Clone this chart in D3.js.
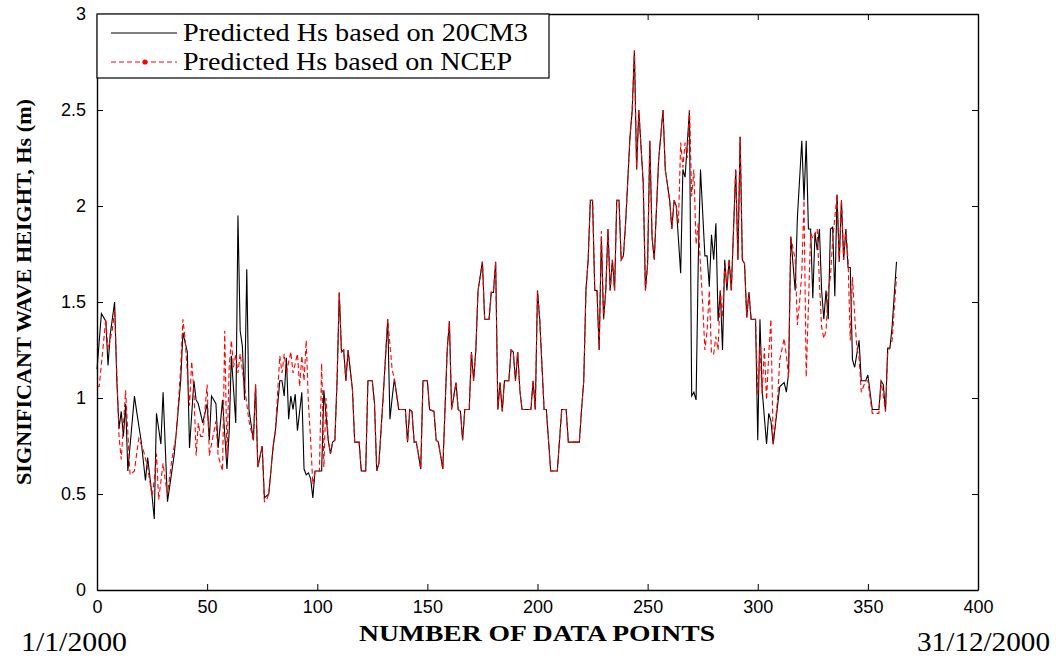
<!DOCTYPE html>
<html>
<head>
<meta charset="utf-8">
<script src="https://cdn.jsdelivr.net/npm/d3@7"></script>
<style>
  html, body { margin: 0; padding: 0; background: #fff; }
  svg { display: block; }
</style>
</head>
<body>
<svg id="chart" width="1056" height="658"></svg>
<script>
// ---- Data ----
const seriesNames = ["Predicted Hs based on 20CM3", "Predicted Hs based on NCEP"];

const days20CM3 = [0,2,4,5,6,8,9,10,11,12,13,14,17,18,20,22,23,25,26,27,29,30,32,35,36,38,39,41,42,44,45,46,48,50,51,52,54,55,57,59,60,61,63,64,65,66,67,68,69,71,72,73,75,76,78,80,81,83,84,85,86,87,88,89,90,91,93,94,95,96,97,98,99,100,102,103,105,106,107,108,109,110,111,112,113,114,116,117,119,120,122,123,125,126,127,128,130,132,133,134,135,137,140,141,142,143,144,145,147,148,150,151,153,154,155,157,158,159,160,161,163,164,165,166,167,169,170,171,172,173,175,176,178,179,180,181,182,183,184,185,187,188,189,190,191,192,193,197,198,199,200,201,203,204,206,209,211,213,214,219,220,221,222,223,224,225,226,227,228,229,230,231,232,233,234,235,236,237,238,239,240,242,243,244,245,246,248,249,250,251,252,253,255,257,258,260,261,262,263,265,266,267,269,270,271,272,273,274,276,277,278,279,280,281,282,283,284,285,286,287,288,290,291,292,293,294,295,296,297,299,300,301,302,304,305,306,307,310,312,313,314,315,317,318,320,321,322,323,324,325,326,327,328,329,330,331,332,333,334,335,336,337,338,339,340,341,342,343,344,346,347,349,350,351,352,355,356,357,358,359,360,361,363];
const hs20CM3 = [1.15,1.44,1.40,1.17,1.33,1.50,1.09,0.84,0.93,0.80,0.97,0.62,1.01,0.93,0.78,0.57,0.69,0.49,0.37,0.92,0.76,1.03,0.46,0.70,0.82,1.09,1.34,1.24,0.74,1.09,0.99,0.97,0.87,0.97,0.78,1.01,0.97,0.74,0.99,0.63,0.82,1.22,0.87,1.95,1.35,1.27,0.99,1.67,0.94,0.78,1.07,0.64,0.75,0.48,0.50,0.75,0.83,1.09,1.09,1.01,1.21,0.89,1.01,0.94,1.02,0.83,1.03,0.63,0.60,0.61,0.58,0.48,0.62,0.62,0.62,1.04,0.78,0.71,0.77,0.78,1.09,1.55,1.24,1.25,1.09,1.25,1.04,0.77,0.77,0.62,0.62,1.09,1.09,0.97,0.62,0.66,1.02,1.41,0.89,1.00,1.10,0.94,0.94,0.77,0.94,0.93,0.77,0.77,0.63,1.09,1.09,0.94,0.93,0.78,0.77,0.63,0.94,1.25,1.40,0.94,1.08,0.94,0.93,0.78,0.94,0.94,1.24,1.09,1.25,1.56,1.71,1.41,1.41,1.55,1.55,1.71,0.94,1.08,0.93,1.09,1.09,1.25,1.24,1.09,1.24,1.04,0.94,0.94,1.09,0.94,1.56,1.41,0.94,0.94,0.62,0.62,0.94,0.94,0.77,0.77,0.94,1.09,1.56,1.72,2.03,2.03,1.56,1.56,1.25,1.84,1.41,1.56,1.88,1.56,1.72,1.56,2.03,2.03,1.72,1.74,1.91,2.36,2.50,2.81,2.19,2.50,2.12,1.56,1.70,2.34,1.84,1.72,2.24,2.50,2.19,2.03,1.88,2.03,2.00,1.65,2.19,2.15,2.50,1.01,1.03,0.99,1.72,2.19,1.74,1.74,1.58,1.85,1.72,1.91,1.40,1.56,1.25,1.72,1.56,1.72,1.56,2.19,1.72,2.36,1.72,1.70,1.42,1.55,1.41,1.41,0.78,1.41,1.04,0.76,0.92,0.88,0.76,1.06,1.08,1.03,1.13,1.84,1.56,1.94,2.34,2.03,2.34,1.88,1.88,1.52,1.86,1.77,1.88,1.56,1.41,1.56,1.41,1.88,1.89,1.53,2.06,1.71,2.03,1.72,1.88,1.68,1.68,1.20,1.16,1.30,1.09,1.09,1.12,1.03,0.94,0.94,1.09,1.07,0.93,1.26,1.26,1.37,1.71];

const daysNCEP = [0,1,4,5,7,8,10,11,13,15,17,18,19,21,23,25,26,27,28,30,31,32,34,36,38,39,40,42,43,44,45,46,47,48,50,51,53,54,55,57,58,59,60,61,62,63,64,65,67,69,71,72,73,75,76,77,78,80,81,83,84,85,86,88,89,91,92,93,94,95,96,97,98,99,101,102,103,104,105,106,107,108,109,110,111,112,113,114,116,117,119,120,122,123,125,126,127,128,130,132,133,134,135,137,140,141,142,143,144,145,147,148,150,151,153,154,155,157,158,159,160,161,163,164,165,166,167,169,170,171,172,173,175,176,178,179,180,181,182,183,184,185,187,188,189,190,191,192,193,197,198,199,200,201,203,204,206,209,211,213,214,219,220,221,222,223,224,225,226,227,228,229,230,231,232,233,234,235,236,237,238,239,240,242,243,244,245,246,248,249,250,251,252,253,255,257,258,260,261,262,263,264,265,266,267,268,269,270,271,272,273,274,275,276,277,278,279,280,281,282,283,284,285,286,287,288,290,291,292,293,294,295,296,297,299,300,301,302,303,304,305,306,307,309,310,312,313,314,315,317,318,319,320,321,322,323,324,325,327,328,329,330,331,332,333,334,336,337,338,339,340,341,342,343,344,345,346,347,349,350,352,355,356,358,359,361,363];
const hsNCEP = [1.06,1.06,1.41,1.25,1.36,1.46,0.80,0.68,1.04,0.60,0.62,0.71,0.79,0.73,0.64,0.49,0.57,0.71,0.47,0.66,0.57,0.50,0.68,0.81,1.16,1.41,1.31,0.96,1.19,1.04,0.70,0.87,0.80,0.80,1.07,0.70,0.82,0.88,0.70,0.62,1.35,0.69,1.16,1.30,1.16,1.23,1.13,1.23,1.06,0.88,0.78,1.07,0.64,0.75,0.46,0.47,0.50,0.75,0.83,1.22,1.13,1.23,1.13,1.24,1.13,1.23,1.06,1.22,1.09,1.30,0.97,0.78,0.55,0.62,0.62,1.18,0.64,1.00,0.78,0.71,0.77,0.78,1.09,1.55,1.24,1.25,1.09,1.25,1.04,0.77,0.77,0.62,0.62,1.09,1.09,0.97,0.62,0.66,1.02,1.41,1.28,1.15,1.10,0.94,0.94,0.77,0.94,0.93,0.77,0.77,0.63,1.09,1.09,0.94,0.93,0.78,0.77,0.63,0.94,1.25,1.40,0.94,1.08,0.94,0.93,0.78,0.94,0.94,1.24,1.09,1.25,1.56,1.71,1.41,1.41,1.55,1.55,1.71,0.94,1.08,0.93,1.09,1.09,1.25,1.24,1.09,1.24,1.04,0.94,0.94,1.09,0.94,1.56,1.41,0.94,0.94,0.62,0.62,0.94,0.94,0.77,0.77,0.94,1.09,1.56,1.72,2.03,2.03,1.56,1.56,1.25,1.87,1.41,1.56,1.88,1.56,1.72,1.56,2.03,2.03,1.72,1.74,1.91,2.36,2.50,2.81,2.19,2.50,2.12,1.56,1.70,2.34,1.84,1.72,2.24,2.50,2.19,2.03,1.88,2.03,2.00,1.91,2.33,2.20,2.33,2.25,2.50,2.05,2.19,1.80,1.91,1.69,1.49,1.25,1.35,1.56,1.23,1.23,1.32,1.25,1.56,1.42,1.69,1.59,1.72,1.56,2.19,1.72,2.36,1.72,1.70,1.42,1.55,1.41,1.41,1.02,1.27,1.02,1.26,0.99,1.23,1.41,0.76,0.99,1.20,1.31,1.22,1.11,1.84,1.72,1.38,1.50,1.65,2.03,1.11,1.48,1.86,1.83,1.88,1.60,1.37,1.31,1.35,1.56,1.63,1.82,2.06,1.71,2.03,1.72,1.88,1.72,1.30,1.63,1.43,1.26,1.21,1.03,1.09,1.09,0.92,0.92,1.09,0.93,1.23,1.30,1.63];

const xTicks = [0,50,100,150,200,250,300,350,400];
const yTicks = [0,0.5,1,1.5,2,2.5,3];
const xTickLabels = ["0","50","100","150","200","250","300","350","400"];
const yTickLabels = ["0","0.5","1","1.5","2","2.5","3"];
const xAxisTitle = "NUMBER OF DATA POINTS";
const yAxisTitle = "SIGNIFICANT WAVE HEIGHT, Hs (m)";
const startDate = "1/1/2000";
const endDate = "31/12/2000";

// ---- Drawing ----
const svg = d3.select("#chart");
const L = 97, R = 978, T = 14, B = 590;
const x = d3.scaleLinear().domain([0, 400]).range([L, R]);
const y = d3.scaleLinear().domain([0, 3]).range([B, T]);
const tickFont = "'Liberation Sans', Arial, sans-serif";
const serif = "'Liberation Serif', 'Times New Roman', serif";

svg.append("rect").attr("x", 0).attr("y", 0).attr("width", 1056).attr("height", 658).attr("fill", "#fff");

const line = d3.line().x(d => x(d[0])).y(d => y(d[1]));
const s1 = days20CM3.map((d, i) => [d, hs20CM3[i]]);
const s2 = daysNCEP.map((d, i) => [d, hsNCEP[i]]);

svg.append("path").datum(s1).attr("d", line)
  .attr("fill", "none").attr("stroke", "#000").attr("stroke-width", 1.1);
svg.append("path").datum(s2).attr("d", line)
  .attr("fill", "none").attr("stroke", "#ff0000").attr("stroke-width", 1.1)
  .attr("stroke-dasharray", "5,3");

// Axes (inward ticks, box)
const xAxisB = d3.axisBottom(x).tickValues(xTicks).tickSizeInner(-6).tickSizeOuter(0)
  .tickFormat((d, i) => xTickLabels[i]).tickPadding(10);
const gxb = svg.append("g").attr("transform", `translate(0,${B})`).call(xAxisB);
const xAxisT = d3.axisTop(x).tickValues(xTicks).tickSizeInner(-6).tickSizeOuter(0).tickFormat("");
const gxt = svg.append("g").attr("transform", `translate(0,${T})`).call(xAxisT);
const yAxisL = d3.axisLeft(y).tickValues(yTicks).tickSizeInner(-6).tickSizeOuter(0)
  .tickFormat((d, i) => yTickLabels[i]).tickPadding(11);
const gyl = svg.append("g").attr("transform", `translate(${L},0)`).call(yAxisL);
const yAxisR = d3.axisRight(y).tickValues(yTicks).tickSizeInner(-6).tickSizeOuter(0).tickFormat("");
const gyr = svg.append("g").attr("transform", `translate(${R},0)`).call(yAxisR);

[gxb, gxt, gyl, gyr].forEach(g => {
  g.select(".domain").attr("stroke", "#000").attr("stroke-width", 1.4);
  g.selectAll(".tick line").attr("stroke", "#000").attr("stroke-width", 1);
  g.selectAll(".tick text").attr("fill", "#000").style("font-family", tickFont).style("font-size", "18px");
});
gxb.selectAll(".tick text").attr("dy", "0.71em");

// Axis titles
svg.append("text").attr("x", 537).attr("y", 641).attr("text-anchor", "middle")
  .attr("textLength", 356).attr("lengthAdjust", "spacingAndGlyphs")
  .style("font-family", serif).style("font-weight", "bold").style("font-size", "24px")
  .text(xAxisTitle);
svg.append("text").attr("transform", "translate(31,292) rotate(-90)").attr("text-anchor", "middle")
  .attr("textLength", 386).attr("lengthAdjust", "spacingAndGlyphs")
  .style("font-family", serif).style("font-weight", "bold").style("font-size", "22px")
  .text(yAxisTitle);

svg.append("text").attr("x", 21).attr("y", 651)
  .attr("textLength", 106).attr("lengthAdjust", "spacingAndGlyphs")
  .style("font-family", serif).style("font-size", "28px").text(startDate);
svg.append("text").attr("x", 1050).attr("y", 651).attr("text-anchor", "end")
  .attr("textLength", 133).attr("lengthAdjust", "spacingAndGlyphs")
  .style("font-family", serif).style("font-size", "28px").text(endDate);

// Legend
const lg = svg.append("g");
lg.append("rect").attr("x", L).attr("y", T).attr("width", 452).attr("height", 64)
  .attr("fill", "#fff").attr("stroke", "#000").attr("stroke-width", 1.2);
lg.append("line").attr("x1", 111).attr("x2", 177).attr("y1", 33).attr("y2", 33)
  .attr("stroke", "#000").attr("stroke-width", 1.1);
lg.append("line").attr("x1", 111).attr("x2", 177).attr("y1", 62).attr("y2", 62)
  .attr("stroke", "#ff0000").attr("stroke-width", 1.1).attr("stroke-dasharray", "5,3");
lg.append("circle").attr("cx", 145).attr("cy", 62).attr("r", 2.6).attr("fill", "#ff0000");
lg.append("text").attr("x", 183).attr("y", 41).attr("textLength", 345).attr("lengthAdjust", "spacingAndGlyphs")
  .style("font-family", serif).style("font-size", "26px").text(seriesNames[0]);
lg.append("text").attr("x", 183).attr("y", 70).attr("textLength", 329).attr("lengthAdjust", "spacingAndGlyphs")
  .style("font-family", serif).style("font-size", "26px").text(seriesNames[1]);
</script>
</body>
</html>
